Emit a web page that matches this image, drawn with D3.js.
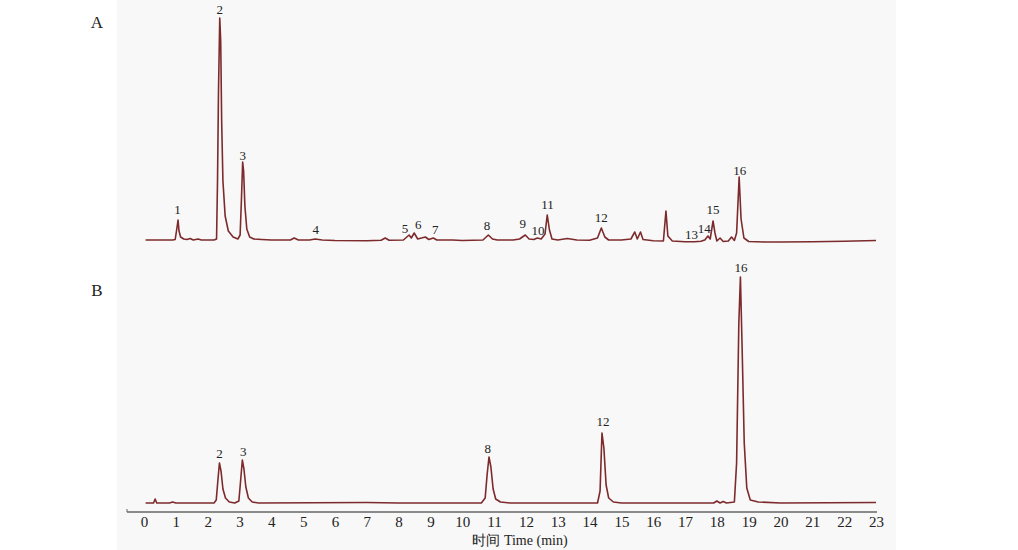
<!DOCTYPE html>
<html>
<head>
<meta charset="utf-8">
<script src="https://cdn.jsdelivr.net/npm/d3@7"></script>
<style>
  body { margin: 0; background: #fff; }
  text { font-family: "Liberation Serif", "DejaVu Serif", serif; fill: #222; }
</style>
</head>
<body>
<div id="chart"></div>
<script>
// trace A: [time (min), signal]
let traceA = [
  [0.05, 1], [0.5, 1], [0.9, 1], [0.98, 1.5], [1.03, 12], [1.07, 21], [1.1, 10], [1.15, 4],
  [1.25, 2], [1.35, 1.5], [1.45, 2.5], [1.55, 1], [1.7, 2], [1.8, 1], [2.2, 1], [2.28, 2],
  [2.31, 60], [2.34, 148], [2.38, 223], [2.41, 200], [2.44, 120], [2.48, 60], [2.55, 25],
  [2.65, 10], [2.8, 4], [2.95, 2], [3.02, 6], [3.06, 40], [3.1, 79], [3.13, 70], [3.17, 35],
  [3.23, 12], [3.32, 4], [3.45, 2], [3.7, 1.5], [4.0, 1], [4.6, 1], [4.72, 3], [4.85, 1],
  [5.2, 1], [5.38, 2], [5.6, 1], [6.0, 0.5], [7.0, 0.3], [7.45, 0.8], [7.58, 3], [7.7, 0.8],
  [8.15, 1], [8.33, 6], [8.4, 3], [8.49, 8], [8.6, 2], [8.84, 4], [8.95, 1.5], [9.09, 3],
  [9.2, 1], [9.7, 1], [10.0, 0.5], [10.65, 1], [10.82, 6], [10.95, 2], [11.1, 1], [11.6, 1],
  [11.8, 2], [11.98, 6], [12.1, 2], [12.25, 1.5], [12.36, 3], [12.48, 2], [12.6, 7],
  [12.67, 26], [12.74, 11], [12.82, 2], [13.0, 1], [13.3, 2.5], [13.6, 1], [14.0, 0.8],
  [14.25, 3], [14.37, 13], [14.48, 4], [14.6, 1], [15.0, 1], [15.3, 2], [15.42, 9],
  [15.5, 2], [15.6, 9], [15.68, 1.5], [16.0, 0.3], [16.32, 0], [16.4, 30], [16.46, 5],
  [16.6, 0], [17.0, -0.8], [17.3, -0.8], [17.5, -0.3], [17.62, 1], [17.72, 5], [17.79, 2],
  [17.88, 20], [17.94, 8], [18.0, 0], [18.1, 3], [18.2, -0.5], [18.36, 0], [18.46, 4],
  [18.55, 0.5], [18.62, 8], [18.7, 64], [18.76, 22], [18.85, 3], [19.0, -0.5], [19.5, -1],
  [20, -1], [21, -0.8], [22, -0.3], [23, 0.5]
];

// trace B: [time (min), signal]
let traceB = [
  [0.05, 0], [0.3, 0], [0.35, 4], [0.4, 0], [0.8, 0], [0.9, 1], [1.0, 0], [2.2, 0],
  [2.27, 3], [2.32, 22], [2.37, 40], [2.42, 32], [2.48, 14], [2.56, 5], [2.68, 1],
  [2.85, 0], [2.98, 2], [3.03, 20], [3.09, 43], [3.14, 34], [3.2, 16], [3.28, 5],
  [3.4, 1], [3.6, 0], [7.0, 0.5], [8.0, 0], [10.6, 0], [10.72, 5], [10.78, 28],
  [10.84, 46], [10.9, 36], [10.97, 14], [11.05, 4], [11.2, 1], [11.5, 0], [14.25, 0],
  [14.33, 12], [14.39, 70], [14.45, 55], [14.52, 18], [14.6, 5], [14.75, 1], [15, 0],
  [17.9, 0], [18.0, 2], [18.1, 0], [18.2, 1.5], [18.3, 0], [18.55, 1], [18.62, 40],
  [18.69, 180], [18.74, 226], [18.79, 160], [18.86, 60], [18.94, 15], [19.05, 3],
  [19.3, 1], [20, 0], [23, 0.5]
];

// peak labels: [label, time, signal where the text sits]
let labelsA = [
  ["1", 1.05, 27], ["2", 2.38, 227], ["3", 3.1, 81], ["4", 5.4, 7], ["5", 8.2, 8],
  ["6", 8.62, 12], ["7", 9.15, 7], ["8", 10.78, 11], ["9", 11.9, 13], ["10", 12.38, 6],
  ["11", 12.68, 32], ["12", 14.37, 19], ["13", 17.2, 2], ["14", 17.6, 8], ["15", 17.88, 27],
  ["16", 18.72, 66]
];
let labelsB = [
  ["2", 2.37, 45], ["3", 3.12, 47], ["8", 10.8, 50], ["12", 14.42, 77], ["16", 18.76, 231]
];

let xTicks = d3.range(0, 24);

let svg = d3.select("#chart").append("svg")
    .attr("width", 1018)
    .attr("height", 550);

// light grey panel behind the figure
svg.append("rect")
    .attr("x", 117)
    .attr("y", 0)
    .attr("width", 779)
    .attr("height", 550)
    .attr("fill", "#f8f8f8");

let x = d3.scaleLinear().domain([0, 23]).range([144, 876]);
let yA = d3.scaleLinear().domain([0, 225]).range([241, 16]);
let yB = d3.scaleLinear().domain([0, 225]).range([503, 278]);

let lineA = d3.line().x(d => x(d[0])).y(d => yA(d[1]));
let lineB = d3.line().x(d => x(d[0])).y(d => yB(d[1]));

svg.append("path")
    .attr("d", lineA(traceA))
    .attr("fill", "none")
    .attr("stroke", "#7d2a2c")
    .attr("stroke-width", 1.6)
    .attr("stroke-linejoin", "round");

svg.append("path")
    .attr("d", lineB(traceB))
    .attr("fill", "none")
    .attr("stroke", "#7d2a2c")
    .attr("stroke-width", 1.6)
    .attr("stroke-linejoin", "round");

svg.selectAll(".labA")
    .data(labelsA)
    .enter().append("text")
    .attr("class", "labA")
    .attr("x", d => x(d[1]))
    .attr("y", d => yA(d[2]))
    .attr("text-anchor", "middle")
    .attr("font-size", 13)
    .text(d => d[0]);

svg.selectAll(".labB")
    .data(labelsB)
    .enter().append("text")
    .attr("class", "labB")
    .attr("x", d => x(d[1]))
    .attr("y", d => yB(d[2]))
    .attr("text-anchor", "middle")
    .attr("font-size", 13)
    .text(d => d[0]);

// x axis
let axis = svg.append("g")
    .attr("transform", "translate(0,512)")
    .call(d3.axisBottom(x).tickValues(xTicks).tickSize(0).tickPadding(4).tickFormat(d3.format("d")));
axis.select(".domain").remove();
axis.selectAll("text")
    .attr("font-size", 15)
    .attr("font-family", "Liberation Serif, serif")
    .attr("fill", "#222");

svg.append("line")
    .attr("x1", 127).attr("x2", 877)
    .attr("y1", 512).attr("y2", 512)
    .attr("stroke", "#666")
    .attr("stroke-width", 1.5);
svg.append("line")
    .attr("x1", 127).attr("x2", 127)
    .attr("y1", 509).attr("y2", 512)
    .attr("stroke", "#666");

svg.append("text")
    .attr("x", 520)
    .attr("y", 545)
    .attr("text-anchor", "middle")
    .attr("font-size", 14)
    .text("时间 Time (min)");

svg.append("text").attr("x", 97).attr("y", 28).attr("text-anchor", "middle").attr("font-size", 17).text("A");
svg.append("text").attr("x", 97).attr("y", 296).attr("text-anchor", "middle").attr("font-size", 17).text("B");
</script>
</body>
</html>
